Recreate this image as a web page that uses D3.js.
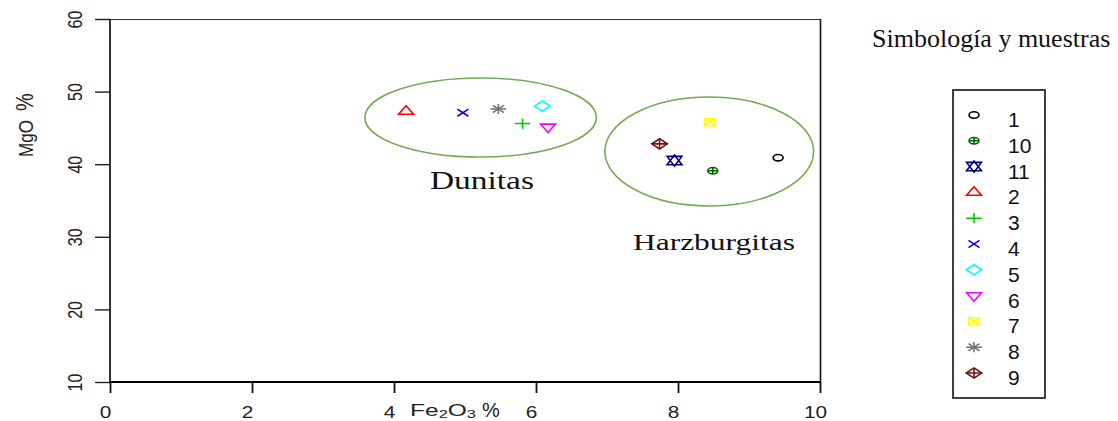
<!DOCTYPE html>
<html><head><meta charset="utf-8">
<script src="https://cdn.jsdelivr.net/npm/d3@7"></script>
<style>body{margin:0;background:#fff}svg{display:block}</style>
</head><body>
<svg id="c" width="1118" height="421"></svg>
<script>
// ---- data ----
const samples   = ["1","10","11","2","3","4","5","6","7","8","9"];
const pchCodes  = [1, 10, 11, 2, 3, 4, 5, 6, 7, 8, 9];
const colors    = ["#000000","#006400","#000080","#ff0000","#00cc00","#0000ff","#00ffff","#ff00ff","#ffff00","#707070","#701515"];
const feValues  = [9.41, 8.49, 7.95, 4.17, 5.81, 4.97, 6.09, 6.17, 8.45, 5.47, 7.74];
const mgoValues = [40.9, 39.1, 40.5, 47.27, 45.6, 47.1, 48.0, 45.14, 45.8, 47.6, 42.8];
const xTicks = [0, 2, 4, 6, 8, 10];
const yTicks = [10, 20, 30, 40, 50, 60];
const groupNames = ["Dunitas", "Harzburgitas"];
const groupCx = [5.22, 8.44];
const groupCy = [46.43, 41.75];
const groupRx = [1.63, 1.47];
const groupRy = [5.44, 7.5];

const svg = d3.select("#c");
const SANS = "'Liberation Sans', Arial, sans-serif";
const SERIF = "'Liberation Serif', 'Times New Roman', serif";

const x = d3.scaleLinear().domain([0, 10]).range([110, 820]);
const y = d3.scaleLinear().domain([10, 60]).range([382, 19]);

function fit(sel, w, tx, ty, sy) {
  const len = sel.node().getComputedTextLength();
  sel.attr("transform", `translate(${tx},${ty}) scale(${w / len},${sy || 1})`);
}

// ---- frame ----
svg.append("line").attr("x1", 110).attr("x2", 821).attr("y1", 19.5).attr("y2", 19.5).attr("stroke", "#333").attr("stroke-width", 1.2);
svg.append("line").attr("x1", 820.5).attr("x2", 820.5).attr("y1", 19).attr("y2", 383).attr("stroke", "#111").attr("stroke-width", 1.6);

// ---- axes ----
const xAxis = svg.append("g").attr("transform", "translate(0,382)")
  .call(d3.axisBottom(x).tickValues(xTicks).tickSize(11).tickFormat(d3.format("d")));
xAxis.select(".domain").remove();
xAxis.selectAll(".tick line").attr("stroke", "#111").attr("stroke-width", 1.8);
xAxis.selectAll(".tick text")
  .attr("y", 36.5 / 1.05).attr("dy", 0).attr("x", -5 / 1.3)
  .attr("transform", "scale(1.3,1.05)")
  .attr("font-family", SANS).attr("font-size", 16).attr("fill", "#222");

const yAxis = svg.append("g").attr("transform", "translate(110,0)")
  .call(d3.axisLeft(y).tickValues(yTicks).tickSize(15).tickFormat(d3.format("d")));
yAxis.select(".domain").remove();
yAxis.selectAll(".tick line").attr("stroke", "#222").attr("stroke-width", 1.4);
yAxis.selectAll(".tick text")
  .attr("transform", "rotate(-90) scale(1,1.25)").attr("x", 0).attr("y", -28 / 1.25).attr("dy", 0)
  .attr("text-anchor", "middle")
  .attr("font-family", SANS).attr("font-size", 16).attr("fill", "#222");

// axis lines
svg.append("line").attr("x1", 110).attr("x2", 110).attr("y1", 19).attr("y2", 383).attr("stroke", "#000").attr("stroke-width", 1.6);
svg.append("line").attr("x1", 109).attr("x2", 821).attr("y1", 382).attr("y2", 382).attr("stroke", "#000").attr("stroke-width", 2.2);

// axis titles
const xt = svg.append("text").attr("font-family", SANS).attr("font-size", 15).attr("fill", "#222");
xt.append("tspan").text("Fe");
xt.append("tspan").attr("font-size", 10).attr("dy", 2).text("2");
xt.append("tspan").attr("dy", -2).text("O");
xt.append("tspan").attr("font-size", 10).attr("dy", 2).text("3");
fit(xt, 66, 410, 416, 1.1);
svg.append("text").attr("x", 482).attr("y", 416.5).attr("font-family", SANS).attr("font-size", 20).attr("fill", "#222").text("%");

const yl = svg.append("g").attr("transform", "translate(33,157) rotate(-90)");
const ym = yl.append("text").attr("font-family", SANS).attr("font-size", 16).attr("fill", "#222").text("MgO");
fit(ym, 37, 0, 0, 1.3);
yl.append("text").attr("x", 46).attr("y", 0).attr("transform", "scale(1,1.2)").attr("font-family", SANS).attr("font-size", 20).attr("fill", "#222").text("%");

// ---- group ellipses ----
svg.selectAll("ellipse.grp").data(groupNames).join("ellipse").attr("class", "grp")
  .attr("cx", (d, i) => x(groupCx[i]))
  .attr("cy", (d, i) => y(groupCy[i]))
  .attr("rx", (d, i) => x(groupCx[i] + groupRx[i]) - x(groupCx[i]))
  .attr("ry", (d, i) => y(groupCy[i] - groupRy[i]) - y(groupCy[i]))
  .attr("fill", "none").attr("stroke", "#78aa52").attr("stroke-width", 1.6);

const gl1 = svg.append("text").attr("font-family", SERIF).attr("font-size", 23).attr("fill", "#111").text(groupNames[0]);
fit(gl1, 104, 430, 189, 1.05);
const gl2 = svg.append("text").attr("font-family", SERIF).attr("font-size", 22).attr("fill", "#111").text(groupNames[1]);
fit(gl2, 162, 633, 249.5, 1.05);

// ---- R pch symbols (unit R = 1, screen y down) ----
const T0 = 1.555, T1 = 1.347, T2 = 0.778;
function pchParts(p) {
  const circ = "M0.9,0A0.9,0.9 0 1,1 -0.9,0A0.9,0.9 0 1,1 0.9,0Z";
  const S2 = Math.SQRT2;
  const plus = a => `M${-a},0L${a},0M0,${-a}L0,${a}`;
  const cross = a => `M${-a},${-a}L${a},${a}M${-a},${a}L${a},${-a}`;
  const diamond = `M0,${-S2}L${S2},0L0,${S2}L${-S2},0Z`;
  switch (p) {
    case 1: return [circ];
    case 2: return [`M0,${-T0}L${T1},${T2}L${-T1},${T2}Z`];
    case 3: return [plus(S2)];
    case 4: return [cross(1)];
    case 5: return [diamond];
    case 6: return [`M0,${T0}L${T1},${-T2}L${-T1},${-T2}Z`];
    case 7: return ["M-1,-1L1,-1L1,1L-1,1Z", cross(1)];
    case 8: return [cross(1), plus(S2)];
    case 9: return [diamond, plus(S2)];
    case 10: return [circ, plus(0.9)];
    case 11: {
      const yc = 0.5 * (T2 + T0);
      return [`M0,${T0}L${T1},${-yc}L${-T1},${-yc}Z`, `M0,${-T0}L${T1},${yc}L${-T1},${yc}Z`];
    }
  }
  return [];
}
const RX = 5.5, RY = 3.6;
function drawSymbol(g, p, col) {
  g.selectAll("path").data(pchParts(p)).join("path")
    .attr("d", d => d).attr("transform", `scale(${RX},${RY})`)
    .attr("fill", "none").attr("stroke", col).attr("stroke-width", 1.6)
    .attr("vector-effect", "non-scaling-stroke");
}

// ---- points ----
svg.append("g").selectAll("g.pt").data(samples).join("g").attr("class", "pt")
  .attr("transform", (d, i) => `translate(${x(feValues[i])},${y(mgoValues[i])})`)
  .each(function (d, i) { drawSymbol(d3.select(this), pchCodes[i], colors[i]); });

// ---- legend ----
svg.append("text").attr("x", 872).attr("y", 47).attr("font-family", SERIF).attr("font-size", 26).attr("fill", "#111").text("Simbología y muestras");
svg.append("rect").attr("x", 953).attr("y", 90).attr("width", 92).attr("height", 308)
  .attr("fill", "none").attr("stroke", "#111").attr("stroke-width", 1.6);
const rowY = d3.scalePoint().domain(samples).range([115, 373]);
const lg = svg.append("g").selectAll("g.lg").data(samples).join("g").attr("class", "lg")
  .attr("transform", d => `translate(974,${rowY(d)})`);
lg.each(function (d, i) { drawSymbol(d3.select(this), pchCodes[i], colors[i]); });
lg.append("text").attr("x", 34).attr("y", 12).attr("font-family", SANS).attr("font-size", 21).attr("fill", "#111").text(d => d);
</script>
</body></html>
